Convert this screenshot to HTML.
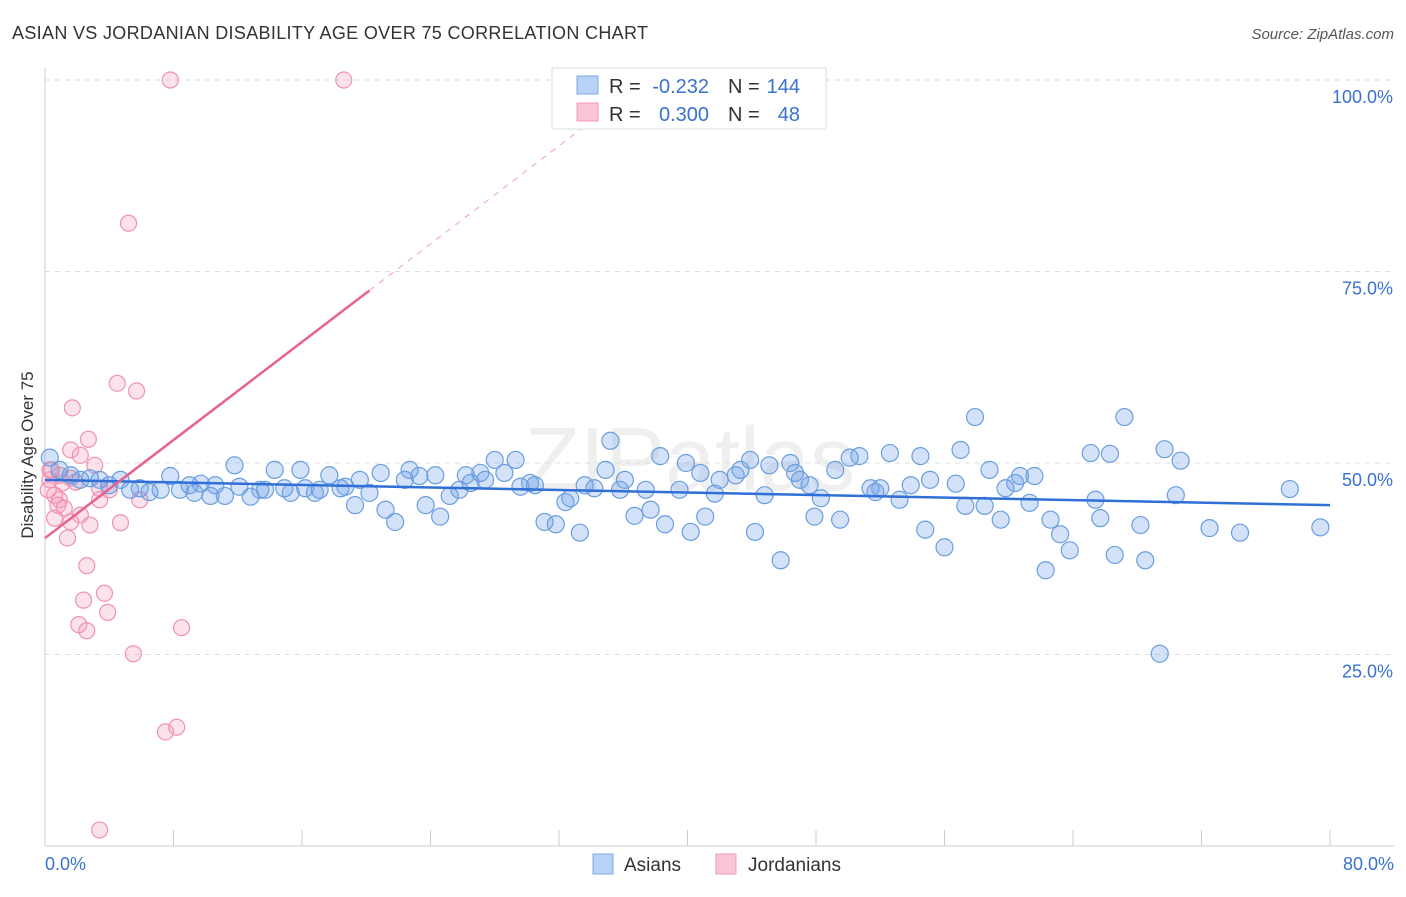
<!DOCTYPE html>
<html><head><meta charset="utf-8"><style>
body{margin:0;background:#fff;font-family:"Liberation Sans",sans-serif;}
svg text{font-family:"Liberation Sans",sans-serif;}
</style></head><body>
<svg id="chart" width="1406" height="892" xmlns="http://www.w3.org/2000/svg">
<text x="12" y="39" font-size="18" fill="#333" textLength="636" lengthAdjust="spacing">ASIAN VS JORDANIAN DISABILITY AGE OVER 75 CORRELATION CHART</text>
<text x="1394" y="39" font-size="15" fill="#555" text-anchor="end" font-style="italic">Source: ZipAtlas.com</text>
<text x="690" y="490" font-size="90" fill="#000" opacity="0.06" text-anchor="middle" font-family="Liberation Serif">ZIPatlas</text>
<g id="grid"></g>
<g id="axes"></g>
<g id="pts"></g>
<g id="lines"></g>
<text transform="translate(33,455) rotate(-90)" font-size="17" fill="#333" text-anchor="middle">Disability Age Over 75</text>
<g>
<rect x="552" y="68" width="274" height="61" fill="#fff" stroke="#ddd"/>
<rect x="577" y="76" width="21" height="18" fill="#b8d2f5" stroke="#7ea9e6"/>
<rect x="577" y="103" width="21" height="18" fill="#f9c6d5" stroke="#f099b5"/>
<text x="609" y="93" font-size="20" fill="#333">R =</text>
<text x="709" y="93" font-size="20" fill="#3a72d0" text-anchor="end">-0.232</text>
<text x="728" y="93" font-size="20" fill="#333">N =</text>
<text x="800" y="93" font-size="20" fill="#3a72d0" text-anchor="end">144</text>
<text x="609" y="121" font-size="20" fill="#333">R =</text>
<text x="709" y="121" font-size="20" fill="#3a72d0" text-anchor="end">0.300</text>
<text x="728" y="121" font-size="20" fill="#333">N =</text>
<text x="800" y="121" font-size="20" fill="#3a72d0" text-anchor="end">48</text>
</g>
<g>
<rect x="593" y="854" width="20" height="20" fill="#b8d2f5" stroke="#7ea9e6"/>
<text x="624" y="871" font-size="19" fill="#333">Asians</text>
<rect x="716" y="854" width="20" height="20" fill="#f9c6d5" stroke="#f099b5"/>
<text x="748" y="871" font-size="19" fill="#333">Jordanians</text>
</g>
</svg>
<script>
const blueX=[0.3,0.9,1.6,2.2,2.8,3.4,4.0,4.7,5.3,5.9,6.5,7.2,7.8,8.4,9.0,9.3,9.7,10.3,10.6,11.2,11.8,12.1,12.8,13.4,13.7,14.3,14.9,15.3,15.9,16.2,16.8,17.1,17.7,18.4,18.7,19.3,19.6,20.2,20.9,21.2,21.8,22.4,22.7,23.3,23.7,24.3,24.6,25.2,25.8,26.2,26.5,27.1,27.4,28.0,28.6,29.3,29.6,30.2,30.5,31.1,31.8,32.4,32.7,33.3,33.6,34.2,34.9,35.2,35.8,36.1,36.7,37.4,37.7,38.6,38.3,39.5,40.2,39.9,40.8,41.1,41.7,42.0,43.0,43.3,43.9,44.2,44.8,45.1,45.8,46.4,46.7,47.0,47.6,47.9,48.3,49.2,49.5,50.1,50.7,51.4,51.7,52.0,52.6,53.2,53.9,54.5,54.8,55.1,56.0,56.7,57.0,57.3,57.9,58.5,58.8,59.5,59.8,60.4,60.7,61.3,61.6,62.3,62.6,63.2,63.8,65.1,65.4,65.7,66.3,66.6,67.2,68.2,68.5,69.4,69.7,70.4,70.7,72.5,74.4,77.5,79.4];
const blueY=[50.7,49.1,48.4,47.8,48.0,47.8,47.1,47.8,46.5,46.7,46.2,46.5,48.3,46.5,47.1,46.1,47.3,45.7,47.1,45.7,49.7,46.9,45.6,46.5,46.5,49.1,46.7,46.1,49.1,46.7,46.1,46.5,48.4,46.7,46.9,44.5,47.8,46.1,48.7,43.9,42.3,47.8,49.1,48.3,44.5,48.4,43.0,45.7,46.5,48.4,47.4,48.7,47.8,50.4,48.7,50.4,46.9,47.4,47.1,42.3,42.0,44.9,45.4,40.9,47.1,46.7,49.1,52.9,46.5,47.8,43.1,46.5,43.9,42.0,50.9,46.5,41.0,50.0,48.7,43.0,46.0,47.8,48.4,49.1,50.4,41.0,45.8,49.7,37.3,50.0,48.7,47.8,47.1,43.0,45.4,49.1,42.6,50.7,50.9,46.7,46.2,46.7,51.3,45.2,47.1,50.9,41.3,47.8,39.0,47.3,51.7,44.4,56.0,44.4,49.1,42.6,46.7,47.4,48.3,44.8,48.3,36.0,42.6,40.7,38.6,51.3,45.2,42.8,51.2,38.0,56.0,41.9,37.3,25.1,51.8,45.8,50.3,41.5,40.9,46.6,41.6];
const pinkX=[7.8,18.6,5.2,4.5,5.7,1.7,2.7,1.6,2.2,3.1,0.3,0.9,1.6,1.9,0.6,0.9,3.4,0.8,1.2,2.2,0.6,1.6,2.8,4.7,5.9,1.4,2.6,3.7,2.4,3.9,2.1,2.6,8.5,5.5,7.5,8.2,3.4,0.3,0.2,0.4,1.1,3.4,4.0];
const pinkY=[100,100,81.3,60.4,59.4,57.2,53.1,51.7,51.0,49.7,49.1,48.4,48.0,47.5,45.8,45.2,45.2,44.5,44.1,43.2,42.8,42.3,41.9,42.2,45.2,40.2,36.6,33.0,32.1,30.5,28.9,28.1,28.5,25.1,14.9,15.5,2.1,47.8,46.5,49.1,47.4,46.7,46.5];
const blueTrend=[47.8,44.5];
const pinkTrend=[40.2,1.6];
const yTicks=[25,50,75,100];
const xTickLabels=["0.0%","80.0%"];
const X=v=>45+v/80*1285, Y=v=>846-v/100*766;
const NS="http://www.w3.org/2000/svg";
function mk(p,t,a){const e=document.createElementNS(NS,t);for(const k in a)e.setAttribute(k,a[k]);p.appendChild(e);return e;}
const grid=document.getElementById('grid'),axes=document.getElementById('axes'),pts=document.getElementById('pts'),lines=document.getElementById('lines');
yTicks.forEach(t=>{
 const l=mk(grid,'line',{x1:45,x2:1394,y1:Y(t),y2:Y(t),stroke:'#ddd','stroke-dasharray':'5,5'});
 
 
 const tx=mk(axes,'text',{x:1393,y:Y(t)+23,'font-size':18,fill:'#3a72d0','text-anchor':'end'});tx.textContent=t.toFixed(1)+'%';
 
 
});
mk(axes,'line',{x1:45,x2:1394,y1:846,y2:846,stroke:'#ccc'});
mk(axes,'line',{x1:45,x2:45,y1:68,y2:846,stroke:'#ccc'});
for(let i=0;i<=10;i++){const t=mk(axes,'line',{x1:X(i*8),x2:X(i*8),y1:830,y2:846,stroke:'#ccc'});
 
 }
const xl0=mk(axes,'text',{x:45,y:870,'font-size':18,fill:'#3a72d0'});xl0.textContent=xTickLabels[0];


const xl1=mk(axes,'text',{x:1394,y:870,'font-size':18,fill:'#3a72d0','text-anchor':'end'});xl1.textContent=xTickLabels[1];


pinkX.forEach((x,i)=>{const c=mk(pts,'circle',{cx:X(x),cy:Y(pinkY[i]),r:8,fill:'rgba(244,160,188,0.3)',stroke:'#ef92b2','stroke-width':1.2});
 
 });
blueX.forEach((x,i)=>{const c=mk(pts,'circle',{cx:X(x),cy:Y(blueY[i]),r:8.5,fill:'rgba(110,160,232,0.3)',stroke:'#6a9ee0','stroke-width':1.2});
 
 });
const bl=mk(lines,'line',{x1:X(0),y1:Y(blueTrend[0]),x2:X(80),y2:Y(blueTrend[1]),stroke:'#2f6fd6','stroke-width':2.5});


const pl=mk(lines,'line',{x1:X(0),y1:Y(pinkTrend[0]),x2:X(20.2),y2:Y(pinkTrend[0]+pinkTrend[1]*20.2),stroke:'#e8628f','stroke-width':2.5});


const pd=mk(lines,'line',{x1:X(20.2),y1:Y(pinkTrend[0]+pinkTrend[1]*20.2),x2:X(34.6),y2:Y(pinkTrend[0]+pinkTrend[1]*34.6),stroke:'#f0a0bb','stroke-width':1,'stroke-dasharray':'6,6'});


</script>
</body></html>
